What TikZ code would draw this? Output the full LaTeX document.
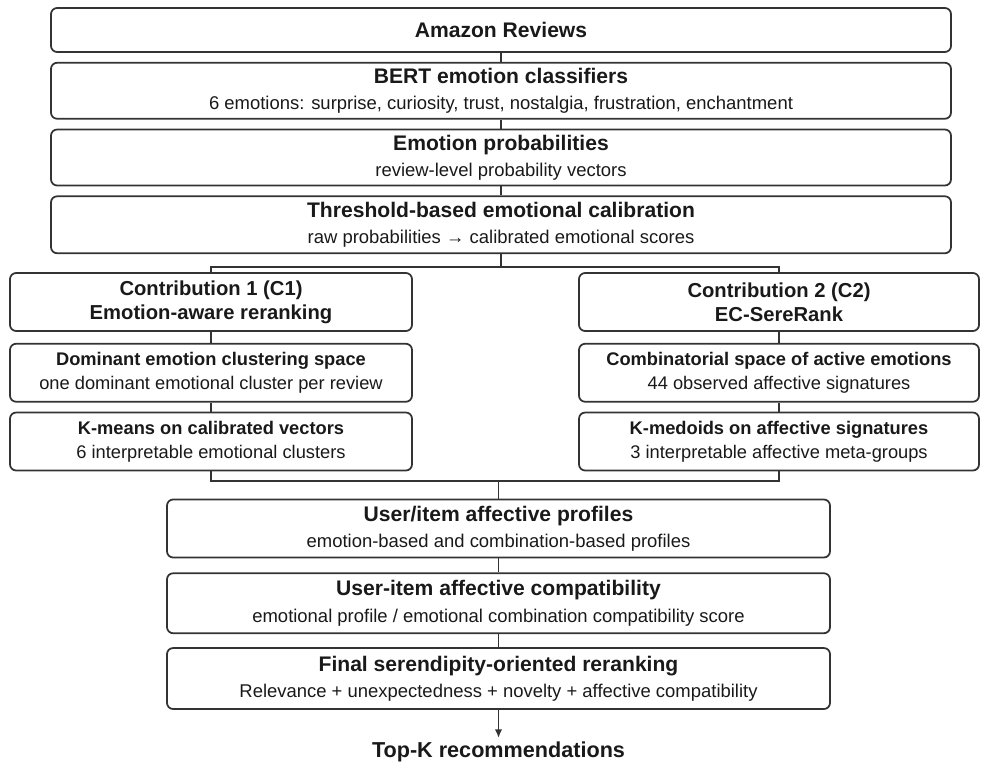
\documentclass[tikz,border=0pt]{standalone}
\usepackage{fontspec}
\setmainfont{Liberation Sans}
\usepackage{tikz}
\usetikzlibrary{arrows.meta,positioning,calc}

\newcommand{\boxhead}{\fontsize{12}{15}\selectfont\bfseries}
\newcommand{\contrhead}{\fontsize{11.5}{13.7}\selectfont\bfseries}
\newcommand{\innerhead}{\fontsize{10.4}{13.7}\selectfont\bfseries}
\newcommand{\boxsub}{\fontsize{10.5}{15}\selectfont}
\newcommand{\innersub}{\fontsize{10.4}{13.7}\selectfont}

\begin{document}
\begin{tikzpicture}[
  node distance=0.18cm,
  stage/.style={draw=black!80, line width=1pt, rounded corners=3.5pt, align=center, text=black!90, font=\boxsub, minimum width=18cm, minimum height=1.12cm, inner sep=2pt},
  branch/.style={stage, font=\innersub, minimum width=8.04cm, minimum height=1.16cm},
  joint/.style={stage, minimum width=13.26cm, minimum height=1.16cm},
  link/.style={draw=black!80, line width=1pt},
  arr/.style={link, -{Latex[length=1.7mm, width=1.5mm]}}
]
  \useasboundingbox (0,0) rectangle (19.64,-15.3);

  % common pipeline
  \node[stage, minimum height=0.88cm] (amz) at (10.02,-0.6) {\boxhead Amazon Reviews};
  \node[stage, below=of amz] (bert) {\boxhead BERT emotion classifiers\\ \boxsub 6 emotions: surprise, curiosity, trust, nostalgia, frustration, enchantment};
  \node[stage, below=of bert] (prob) {\boxhead Emotion probabilities\\ \boxsub review-level probability vectors};
  \node[stage, below=of prob, minimum height=1.14cm] (thr) {\boxhead Threshold-based emotional calibration\\ \boxsub raw probabilities → calibrated emotional scores};

  % two contributions
  \node[branch] (c1) at (4.22,-6.04) {\contrhead Contribution 1 (C1)\\ \contrhead Emotion-aware reranking};
  \node[branch, below=0.22cm of c1] (d1) {\innerhead Dominant emotion clustering space\\ \innersub one dominant emotional cluster per review};
  \node[branch, below=of d1] (k1) {\innerhead K-means on calibrated vectors\\ \innersub 6 interpretable emotional clusters};

  \node[branch, minimum width=8cm] (c2) at (15.58,-6.04) {\contrhead Contribution 2 (C2)\\ \contrhead EC-SereRank};
  \node[branch, minimum width=8cm, below=0.22cm of c2] (d2) {\innerhead Combinatorial space of active emotions\\ \innersub 44 observed affective signatures};
  \node[branch, minimum width=8cm, below=of d2] (k2) {\innerhead K-medoids on affective signatures\\ \innersub 3 interpretable affective meta-groups};

  % shared reranking
  \node[joint] (up) at (9.97,-10.57) {\boxhead User/item affective profiles\\ \boxsub emotion-based and combination-based profiles};
  \node[joint, below=0.28cm of up, minimum height=1.2cm] (comp) {\boxhead User-item affective compatibility\\ \boxsub emotional profile / emotional combination compatibility score};
  \node[joint, below=0.26cm of comp, minimum height=1.22cm] (fin) {\boxhead Final serendipity-oriented reranking\\ \boxsub Relevance + unexpectedness + novelty + affective compatibility};
  \node[below=0.56cm of fin, text=black!90, inner sep=2pt] (topk) {\fontsize{12.3}{15}\selectfont\bfseries Top-K recommendations};

  \coordinate (split) at ($(thr.south)+(0,-0.26)$);
  \coordinate (join) at ($(up.north)+(0,0.36)$);

  \draw[link] (amz) -- (bert);
  \draw[link] (bert) -- (prob);
  \draw[link] (prob) -- (thr);
  \draw[link] (thr.south) -- (split);
  \draw[link] (split) -| (c1.north);
  \draw[link] (split) -| (c2.north);
  \draw[link] (c1) -- (d1);
  \draw[link] (d1) -- (k1);
  \draw[link] (c2) -- (d2);
  \draw[link] (d2) -- (k2);
  \draw[link] (k1.south) |- (join);
  \draw[link] (k2.south) |- (join);
  \draw[link] (join) -- (up.north);
  \draw[link] (up) -- (comp);
  \draw[link] (comp) -- (fin);
  \draw[arr] (fin) -- (topk);
\end{tikzpicture}
\end{document}
